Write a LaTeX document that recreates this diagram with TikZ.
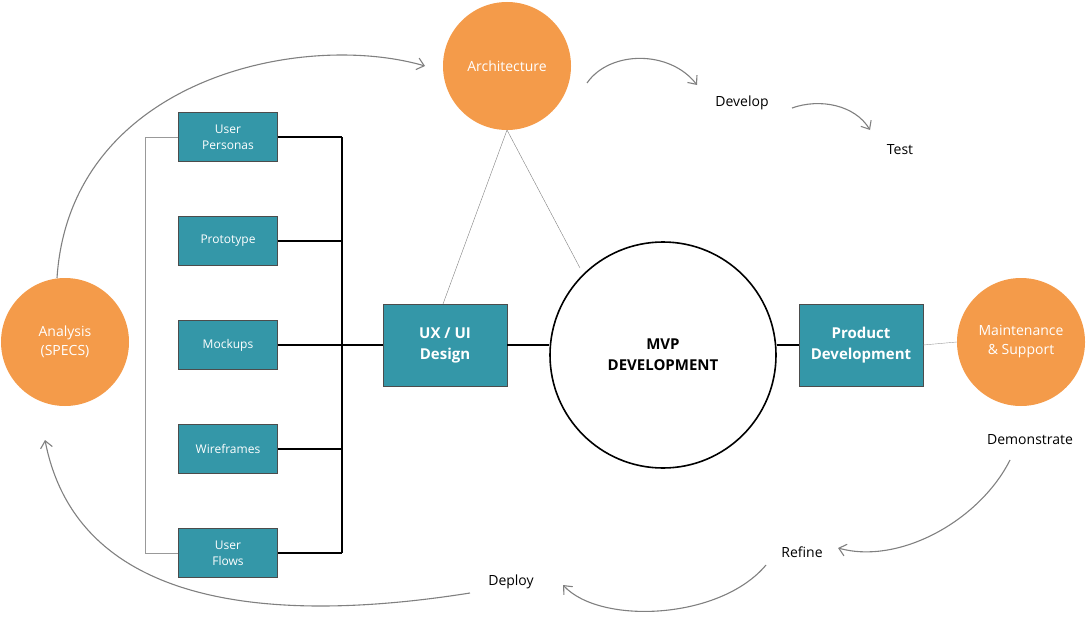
\documentclass[tikz,border=0pt]{standalone}
\usepackage{fontspec}
\setmainfont{Open Sans}
\usetikzlibrary{positioning,arrows.meta}
\definecolor{orng}{HTML}{F49B4A}
\definecolor{teal}{HTML}{3497A8}
\tikzset{
  orb/.style={circle, fill=orng, minimum size=128pt, inner sep=0pt, text=white, align=center, font=\fontsize{14}{19}\selectfont},
  subbox/.style={draw=black!70, fill=teal, minimum width=99pt, minimum height=49pt, text=white, align=center, font=\fontsize{12}{16}\selectfont},
  bigbox/.style={draw=black!70, fill=teal, minimum width=124pt, minimum height=82pt, text=white, align=center, font=\bfseries\fontsize{15}{21}\selectfont},
  lbl/.style={font=\fontsize{14}{17}\selectfont},
  flow/.style={draw=black!50, line width=1.1pt, -{Straight Barb[length=7pt,width=12pt]}},
  trunk/.style={line width=1.6pt}
}
\begin{document}
\begin{tikzpicture}[x=1pt,y=-1pt]
  \useasboundingbox (0,0) rectangle (1086,618);
  % circles
  \node[orb] (arch) at (507,66) {Architecture};
  \node[orb] (anal) at (65,342) {Analysis\\(SPECS)};
  \node[orb] (maint) at (1021,342) {Maintenance\\\& Support};
  \node[circle, draw, line width=1.6pt, minimum size=226pt, align=center, font=\bfseries\fontsize{15}{21}\selectfont] (mvp) at (663,355) {MVP\\DEVELOPMENT};
  % boxes
  \node[bigbox] (ux) at (445,345) {UX / UI\\Design};
  \node[bigbox] (prod) at (861,345) {Product\\Development};
  \node[subbox] (pers) at (228,137) {User\\Personas};
  \node[subbox] (proto) at (228,241) {Prototype};
  \node[subbox] (mock) at (228,345) {Mockups};
  \node[subbox] (wire) at (228,449) {Wireframes};
  \node[subbox] (flows) at (228,553) {User\\Flows};
  % trunk
  \coordinate (top) at (342,137);
  \coordinate (bot) at (342,553);
  \draw[trunk] (top) -- (bot);
  \foreach \b/\y in {pers/137,proto/241,mock/345,wire/449,flows/553}
    \draw[trunk] (\b.east) -- (342,\y);
  \draw[trunk] (342,345) -- (ux.west);
  \draw[trunk] (ux.east) -- (ux.east -| mvp.west);
  \draw[trunk] (prod.west -| mvp.east) -- (prod.west);
  \draw[black!40] (prod.east) -- (maint.west);
  % bracket
  \draw[black!40] (pers.west) -- (145,137) -- (145,553) -- (flows.west);
  % architecture links
  \coordinate (apex) at (507,130);
  \draw[black!50] (apex) -- (443,304);
  \draw[black!50] (apex) -- (580,268);
  % labels
  \node[lbl] (dev) at (742,103) {Develop};
  \node[lbl] (test) at (900,150) {Test};
  \node[lbl] (demo) at (1030,440) {Demonstrate};
  \node[lbl] (ref) at (802,552) {Refine};
  \node[lbl] (dep) at (511,582) {Deploy};
  % flow arrows
  \draw[flow] (57,278) .. controls (70,80) and (300,30) .. (425,66);
  \draw[flow] (587,83) .. controls (610,50) and (670,50) .. (697,85);
  \draw[flow] (792,108) .. controls (820,98) and (855,105) .. (870,130);
  \draw[flow] (1010,460) .. controls (980,520) and (900,565) .. (838,548);
  \draw[flow] (766,565) .. controls (720,620) and (600,625) .. (563,585);
  \draw[flow] (470,593) .. controls (300,620) and (80,620) .. (45,440);
\end{tikzpicture}
\end{document}
